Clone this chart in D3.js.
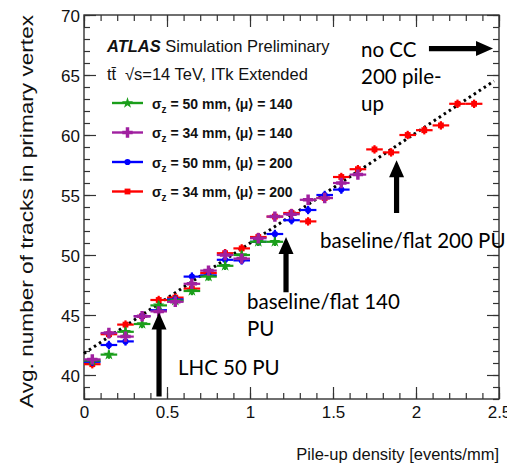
<!DOCTYPE html>
<html>
<head>
<meta charset="utf-8">
<script src="https://cdn.jsdelivr.net/npm/d3@7"></script>
<style>
  body { margin: 0; background: #fff; }
  text { font-family: "Liberation Sans", Arial, sans-serif; fill: #111; }
  .note { font-family: Lato, "Open Sans", sans-serif; fill: #000; }
</style>
</head>
<body>
<svg id="drawing_region"></svg>
<script>
// bin centres of the pile-up density histogram (events/mm)
const binCenters = [0.05, 0.15, 0.25, 0.35, 0.45, 0.55, 0.65, 0.75, 0.85, 0.95, 1.05, 1.15,
                    1.25, 1.35, 1.45, 1.55, 1.65, 1.75, 1.85, 1.95, 2.05, 2.15, 2.25, 2.35];
const binHalfWidth = 0.05;
const yError = 0.35;

// avg. number of tracks, one value per bin starting at the first bin
const sz50mu140 = [41.2, 41.7, 43.6, 44.25, 45.8, 46.2, 47.0, 48.2, 49.1, 50.0, 51.1, 51.1];
const sz34mu140 = [41.3, 43.5, 43.2, 44.9, 45.3, 46.1, 47.6, 48.7, 50.0, 49.7, 51.4, 53.2,
                   53.4, 54.6, 54.75, 56.0, 56.7];
const sz50mu200 = [41.1, 42.5, 42.8, 44.9, 45.4, 46.3, 48.2, 48.3, 49.6, 49.55, 51.1, 51.75,
                   52.9, 53.75, 55.0, 55.45];
const sz34mu200 = [40.9, 43.4, 44.2, 44.9, 46.25, 46.45, 47.2, 48.5, 50.15, 50.55, 51.5, 53.2,
                   53.5, 52.8, 54.75, 56.5, 57.15, 58.8, 58.55, 60.0, 60.4, 60.8, 62.6, 62.6];

// dotted linear fit (end points)
const fitX = [0, 2.47];
const fitY = [41.8, 64.5];

const xTicks = [0, 0.5, 1, 1.5, 2, 2.5];
const yTicks = [40, 45, 50, 55, 60, 65, 70];

const series = [
    { name: "34", mu: "200", values: sz34mu200, color: "#ff0000", symbol: d3.symbolSquare, size: 34 },
    { name: "50", mu: "200", values: sz50mu200, color: "#0000ff", symbol: d3.symbolCircle, size: 30 },
    { name: "50", mu: "140", values: sz50mu140, color: "#1a9e1a", symbol: d3.symbolStar, size: 40 },
    { name: "34", mu: "140", values: sz34mu140, color: "#a020a0", symbol: d3.symbolCross, size: 60 }
];
const legendOrder = [2, 3, 1, 0];

const config = {
    width: 507,
    height: 467,
    margin: { top: 15, right: 8, bottom: 68, left: 84 }
};

const svg = d3.select('#drawing_region')
    .attr('width', config.width)
    .attr('height', config.height);

const x0 = config.margin.left, x1 = config.width - config.margin.right;
const y0 = config.margin.top, y1 = config.height - config.margin.bottom;

const xscale = d3.scaleLinear().domain([0, 2.5]).range([x0, x1]);
const yscale = d3.scaleLinear().domain([38, 70]).range([y1, y0]);

// ---- axes: major + minor ticks, inward, on all four sides
function drawAxis(axisFn, scale, major, minor, transform, labels) {
    const g = svg.append('g').attr('transform', transform);
    g.call(axisFn(scale).tickValues(minor).tickSize(-6).tickFormat(''));
    const g2 = svg.append('g').attr('transform', transform);
    g2.call(axisFn(scale).tickValues(major).tickSize(-12).tickPadding(labels ? 6 : 0)
        .tickFormat(labels ? d3.format('') : ''));
    [g, g2].forEach(s => {
        s.select('.domain').remove();
        s.selectAll('line').attr('stroke', '#333').attr('stroke-width', 1.2);
    });
    return g2;
}

const xMinor = d3.range(0, 2.501, 0.1).map(v => +v.toFixed(1));
const yMinor = d3.range(38, 70.01, 1);

const bottomAxis = drawAxis(d3.axisBottom, xscale, xTicks, xMinor, `translate(0,${y1})`, true);
drawAxis(d3.axisTop, xscale, xTicks, xMinor, `translate(0,${y0})`, false);
const leftAxis = drawAxis(d3.axisLeft, yscale, yTicks, yMinor, `translate(${x0},0)`, true);
drawAxis(d3.axisRight, yscale, yTicks, yMinor, `translate(${x1},0)`, false);

bottomAxis.selectAll('text')
    .attr('font-size', 17).attr('font-family', '"Liberation Sans", Arial, sans-serif')
    .attr('fill', '#111').attr('dy', '0.75em');
leftAxis.selectAll('text')
    .attr('font-size', 17).attr('font-family', '"Liberation Sans", Arial, sans-serif')
    .attr('fill', '#111').attr('x', -4).attr('dy', '0.36em');

svg.append('rect')
    .attr('x', x0).attr('y', y0)
    .attr('width', x1 - x0).attr('height', y1 - y0)
    .attr('fill', 'none').attr('stroke', '#333').attr('stroke-width', 1.4);

// ---- axis titles
svg.append('text')
    .attr('x', x1).attr('y', 460)
    .attr('text-anchor', 'end')
    .attr('font-size', 16.5)
    .text('Pile-up density [events/mm]');

svg.append('text')
    .attr('transform', `translate(33,${(15 + 408) / 2}) rotate(-90)`)
    .attr('text-anchor', 'middle')
    .attr('font-size', 18.5)
    .attr('textLength', 393)
    .attr('lengthAdjust', 'spacingAndGlyphs')
    .text('Avg. number of tracks in primary vertex');

// ---- fit line
svg.append('line')
    .attr('x1', xscale(fitX[0])).attr('y1', yscale(fitY[0]))
    .attr('x2', xscale(fitX[1])).attr('y2', yscale(fitY[1]))
    .attr('stroke', '#000').attr('stroke-width', 3)
    .attr('stroke-dasharray', '2.5 3.5');

// ---- data points with error bars
series.forEach(s => {
    const pts = s.values.map((v, i) => ({ x: binCenters[i], y: v }));
    const g = svg.append('g');
    g.selectAll('line.h').data(pts).enter().append('line')
        .attr('x1', d => xscale(d.x - binHalfWidth)).attr('x2', d => xscale(d.x + binHalfWidth))
        .attr('y1', d => yscale(d.y)).attr('y2', d => yscale(d.y))
        .attr('stroke', s.color).attr('stroke-width', 2.2);
    g.selectAll('line.v').data(pts).enter().append('line')
        .attr('x1', d => xscale(d.x)).attr('x2', d => xscale(d.x))
        .attr('y1', d => yscale(d.y - yError)).attr('y2', d => yscale(d.y + yError))
        .attr('stroke', s.color).attr('stroke-width', 2.2);
    g.selectAll('path').data(pts).enter().append('path')
        .attr('transform', d => `translate(${xscale(d.x)},${yscale(d.y)})`)
        .attr('d', d3.symbol().type(s.symbol).size(s.size))
        .attr('fill', s.color);
});

// ---- legend
const header = svg.append('g');
header.append('text')
    .attr('x', 107).attr('y', 52).attr('font-size', 16.5)
    .html('<tspan font-weight="bold" font-style="italic">ATLAS</tspan> Simulation Preliminary');
header.append('text')
    .attr('x', 107).attr('y', 80).attr('font-size', 16.5)
    .text('tt\u0304');
header.append('text')
    .attr('x', 125).attr('y', 80).attr('font-size', 16.5)
    .text('\u221As=14 TeV, ITk Extended');

const legendRows = [103, 132.5, 162, 191.5];
legendOrder.forEach((si, r) => {
    const s = series[si];
    const g = svg.append('g').attr('transform', `translate(0,${legendRows[r]})`);
    g.append('line').attr('x1', 112).attr('x2', 143)
        .attr('stroke', s.color).attr('stroke-width', 2.4);
    g.append('path').attr('transform', 'translate(127.5,0)')
        .attr('d', d3.symbol().type(s.symbol).size(s.size))
        .attr('fill', s.color);
    g.append('text')
        .attr('x', 152).attr('y', 5.5)
        .attr('font-size', 14).attr('font-weight', 'bold')
        .html(`\u03C3<tspan font-size="10" dy="4">z</tspan><tspan dy="-4"> = ${s.name} mm, \u27E8\u03BC\u27E9 = ${s.mu}</tspan>`);
});

// ---- annotations and arrows
const arrows = [
    { x: [0.452, 0.452], y: [38.2, 45.2] },
    { x: [1.217, 1.217], y: [46.9, 51.5] },
    { x: [1.883, 1.883], y: [53.5, 57.9] },
    { x: [2.078, 2.464], y: [67.2, 67.2] }
];
arrows.forEach(a => {
    const xa = xscale(a.x[0]), ya = yscale(a.y[0]);
    const xb = xscale(a.x[1]), yb = yscale(a.y[1]);
    const ang = Math.atan2(yb - ya, xb - xa);
    const len = Math.hypot(xb - xa, yb - ya);
    const head = 17, hw = 7.5, sw = 2.6;
    const g = svg.append('g')
        .attr('transform', `translate(${xa},${ya}) rotate(${ang * 180 / Math.PI})`);
    g.append('path')
        .attr('d', `M0,${-sw}L${len - head},${-sw}L${len - head},${-hw}L${len},0L${len - head},${hw}L${len - head},${sw}L0,${sw}Z`)
        .attr('fill', '#000');
});

const notes = [
    { t: 'no CC', x: 361, y: 57 },
    { t: '200 pile-', x: 361, y: 84 },
    { t: 'up', x: 361, y: 111 },
    { t: 'baseline/flat 200 PU', x: 320, y: 248 },
    { t: 'baseline/flat 140', x: 247, y: 309 },
    { t: 'PU', x: 247, y: 336 },
    { t: 'LHC 50 PU', x: 178, y: 375 }
];
svg.selectAll('text.note').data(notes).enter().append('text')
    .attr('class', 'note')
    .attr('x', d => d.x).attr('y', d => d.y)
    .attr('font-size', 20.5)
    .text(d => d.t);
</script>
</body>
</html>
